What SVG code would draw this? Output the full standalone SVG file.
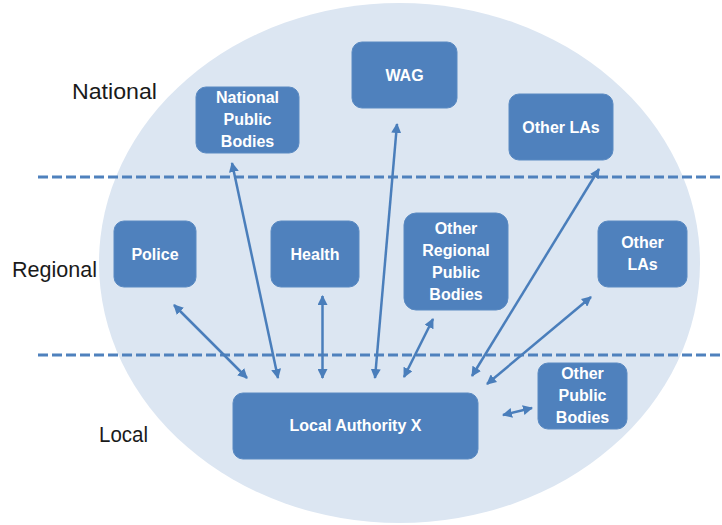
<svg xmlns="http://www.w3.org/2000/svg" width="722" height="525" viewBox="0 0 722 525">
  <style>
    .zone { fill: #dce6f2; }
    .tier { stroke: #4f81bd; stroke-width: 3; stroke-dasharray: 10 4; fill: none; }
    .tier-label { font-family: "Liberation Sans", Arial, sans-serif; font-size: 22px; fill: #1a1a1a; }
    .box { fill: #4f81bd; stroke: #5a8ac2; stroke-width: 1; }
    .box-text { font-family: "Liberation Sans", Arial, sans-serif; font-size: 16px; font-weight: bold; fill: #ffffff; text-anchor: middle; }
    .link { stroke: #4a7ebb; stroke-width: 2.5; fill: none; marker-start: url(#head); marker-end: url(#head); }
  </style>
  <defs>
    <marker id="head" viewBox="0 0 10 10" refX="9" refY="5" markerWidth="4" markerHeight="4" orient="auto-start-reverse" markerUnits="strokeWidth">
      <path d="M0,0 L10,5 L0,10 z" fill="#4a7ebb"/>
    </marker>
  </defs>

  <!-- background scope -->
  <rect x="0" y="0" width="722" height="525" fill="#ffffff"/>
  <ellipse class="zone" cx="399.5" cy="263" rx="300.5" ry="260"/>

  <!-- tier separators -->
  <line class="tier" x1="38" y1="177" x2="722" y2="177"/>
  <line class="tier" x1="38" y1="355" x2="722" y2="355"/>

  <!-- tier labels -->
  <text class="tier-label" x="72" y="99" textLength="85" lengthAdjust="spacingAndGlyphs">National</text>
  <text class="tier-label" x="12" y="277" textLength="85" lengthAdjust="spacingAndGlyphs">Regional</text>
  <text class="tier-label" x="99" y="442" textLength="49" lengthAdjust="spacingAndGlyphs">Local</text>

  <!-- connectors -->
  <g id="connectors">
    <line class="link" x1="174" y1="305" x2="247" y2="378"/>
    <line class="link" x1="232" y1="163" x2="278" y2="378"/>
    <line class="link" x1="322.5" y1="296" x2="322.5" y2="378"/>
    <line class="link" x1="397" y1="124" x2="375" y2="378"/>
    <line class="link" x1="433" y1="319" x2="404" y2="377"/>
    <line class="link" x1="599" y1="169" x2="472" y2="376"/>
    <line class="link" x1="591" y1="297" x2="487" y2="384"/>
    <line class="link" x1="503" y1="415" x2="532" y2="408"/>
  </g>

  <!-- national tier -->
  <g id="national-public-bodies">
    <rect class="box" x="196" y="87" width="103" height="66" rx="10"/>
    <text class="box-text" x="247.5" y="103">National</text>
    <text class="box-text" x="247.5" y="125">Public</text>
    <text class="box-text" x="247.5" y="147">Bodies</text>
  </g>
  <g id="wag">
    <rect class="box" x="352" y="42" width="105" height="66" rx="10"/>
    <text class="box-text" x="404.5" y="81">WAG</text>
  </g>
  <g id="other-las-national">
    <rect class="box" x="509" y="94" width="104" height="66" rx="10"/>
    <text class="box-text" x="561" y="133">Other LAs</text>
  </g>

  <!-- regional tier -->
  <g id="police">
    <rect class="box" x="114" y="221" width="82" height="66" rx="10"/>
    <text class="box-text" x="155" y="260">Police</text>
  </g>
  <g id="health">
    <rect class="box" x="271" y="221" width="88" height="66" rx="10"/>
    <text class="box-text" x="315" y="260">Health</text>
  </g>
  <g id="other-regional-public-bodies">
    <rect class="box" x="404" y="213" width="104" height="97" rx="12"/>
    <text class="box-text" x="456" y="234">Other</text>
    <text class="box-text" x="456" y="256">Regional</text>
    <text class="box-text" x="456" y="278">Public</text>
    <text class="box-text" x="456" y="300">Bodies</text>
  </g>
  <g id="other-las-regional">
    <rect class="box" x="598" y="221" width="89" height="66" rx="10"/>
    <text class="box-text" x="642.5" y="248">Other</text>
    <text class="box-text" x="642.5" y="270">LAs</text>
  </g>

  <!-- local tier -->
  <g id="local-authority-x">
    <rect class="box" x="233" y="393" width="245" height="66" rx="10"/>
    <text class="box-text" x="355.5" y="431">Local Authority X</text>
  </g>
  <g id="other-public-bodies">
    <rect class="box" x="538" y="363" width="89" height="66" rx="10"/>
    <text class="box-text" x="582.5" y="379">Other</text>
    <text class="box-text" x="582.5" y="401">Public</text>
    <text class="box-text" x="582.5" y="423">Bodies</text>
  </g>
</svg>
